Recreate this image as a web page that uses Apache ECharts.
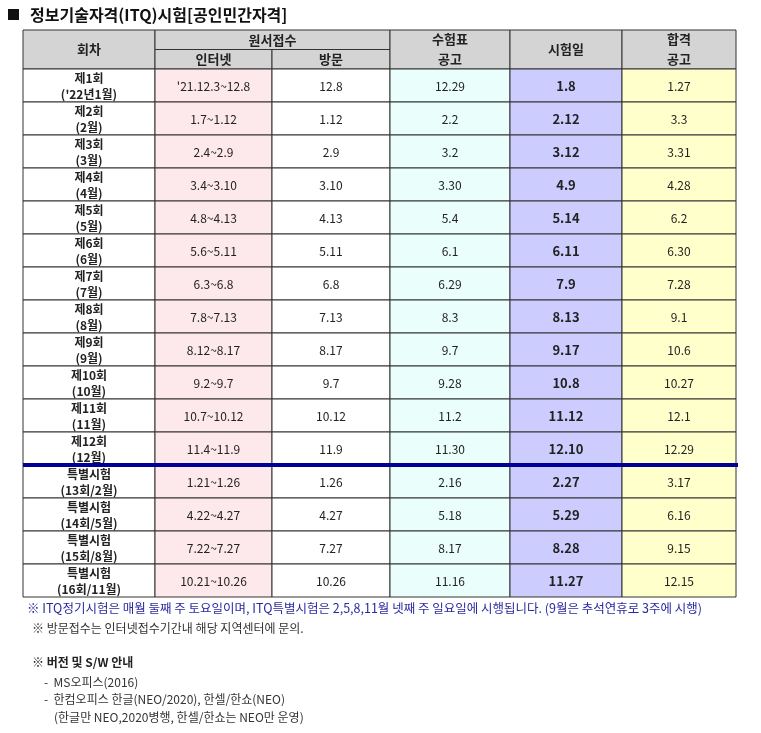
<!DOCTYPE html>
<html>
<head>
<meta charset="utf-8">
<script src="https://cdn.jsdelivr.net/npm/echarts@6/dist/echarts.min.js"></script>
<style>html,body{margin:0;padding:0;background:#fff}#box{width:761px;height:733px}</style>
</head>
<body>
<div id="box"></div>
<script>
// 표 데이터
var rounds = ['제1회\n(\'22년1월)', '제2회\n(2월)', '제3회\n(3월)', '제4회\n(4월)', '제5회\n(5월)', '제6회\n(6월)',
    '제7회\n(7월)', '제8회\n(8월)', '제9회\n(9월)', '제10회\n(10월)', '제11회\n(11월)', '제12회\n(12월)',
    '특별시험\n(13회/2월)', '특별시험\n(14회/5월)', '특별시험\n(15회/8월)', '특별시험\n(16회/11월)'];
var internet = ['\'21.12.3~12.8', '1.7~1.12', '2.4~2.9', '3.4~3.10', '4.8~4.13', '5.6~5.11', '6.3~6.8', '7.8~7.13',
    '8.12~8.17', '9.2~9.7', '10.7~10.12', '11.4~11.9', '1.21~1.26', '4.22~4.27', '7.22~7.27', '10.21~10.26'];
var visit = ['12.8', '1.12', '2.9', '3.10', '4.13', '5.11', '6.8', '7.13', '8.17', '9.7', '10.12', '11.9', '1.26', '4.27', '7.27', '10.26'];
var ticket = ['12.29', '2.2', '3.2', '3.30', '5.4', '6.1', '6.29', '8.3', '9.7', '9.28', '11.2', '11.30', '2.16', '5.18', '8.17', '11.16'];
var examDay = ['1.8', '2.12', '3.12', '4.9', '5.14', '6.11', '7.9', '8.13', '9.17', '10.8', '11.12', '12.10', '2.27', '5.29', '8.28', '11.27'];
var result = ['1.27', '3.3', '3.31', '4.28', '6.2', '6.30', '7.28', '9.1', '10.6', '10.27', '12.1', '12.29', '3.17', '6.16', '9.15', '12.15'];

var myChart = echarts.init(document.getElementById('box'));
var FONT = '"Noto Sans CJK KR", sans-serif';
var colX = [23, 155, 272, 390, 510, 622, 736];
var colFill = ['#ffffff', '#fde9ec', '#ffffff', '#eafffb', '#ccccff', '#ffffcc'];
var top0 = 30, headH = 39, rowH = 33.0;
var bodyTop = top0 + headH;
var cols = [rounds, internet, visit, ticket, examDay, result];
var g = [];

function rect(x, y, w, h, fill) {
    g.push({type: 'rect', shape: {x: x, y: y, width: w, height: h},
        style: {fill: fill, stroke: '#333', lineWidth: 1}});
}
function text(x, y, s, opt) {
    opt = opt || {};
    g.push({type: 'text', x: x, y: y, z: 10, style: {text: s, fill: opt.color || '#222',
        font: (opt.bold ? 'bold ' : '') + (opt.size || 12) + 'px ' + FONT,
        align: opt.align || 'center', verticalAlign: 'middle', lineHeight: opt.lh || 16}});
}

// 제목
g.push({type: 'rect', shape: {x: 8, y: 9, width: 11, height: 11}, style: {fill: '#111'}});
text(30, 15, '정보기술자격(ITQ)시험[공인민간자격]', {align: 'left', bold: true, size: 16, color: '#111'});

// 헤더
var hc = '#d4d4d4';
rect(colX[0], top0, colX[1] - colX[0], headH, hc);
text((colX[0] + colX[1]) / 2, top0 + headH / 2, '회차', {bold: true, size: 13});
rect(colX[1], top0, colX[3] - colX[1], headH / 2, hc);
text((colX[1] + colX[3]) / 2, top0 + headH / 4, '원서접수', {bold: true, size: 13});
rect(colX[1], top0 + headH / 2, colX[2] - colX[1], headH / 2, hc);
text((colX[1] + colX[2]) / 2, top0 + headH * 3 / 4, '인터넷', {bold: true, size: 13});
rect(colX[2], top0 + headH / 2, colX[3] - colX[2], headH / 2, hc);
text((colX[2] + colX[3]) / 2, top0 + headH * 3 / 4, '방문', {bold: true, size: 13});
var heads = [['수험표\n공고', 3], ['시험일', 4], ['합격\n공고', 5]];
heads.forEach(function (h) {
    var c = h[1];
    rect(colX[c], top0, colX[c + 1] - colX[c], headH, hc);
    text((colX[c] + colX[c + 1]) / 2, top0 + headH / 2, h[0], {bold: true, size: 13, lh: 20});
});

// 본문
rounds.forEach(function (r, i) {
    var y = bodyTop + i * rowH;
    cols.forEach(function (col, c) {
        rect(colX[c], y, colX[c + 1] - colX[c], rowH, colFill[c]);
        var bold = c === 0 || c === 4;
        text((colX[c] + colX[c + 1]) / 2, y + rowH / 2 + 1, col[i],
            {bold: bold, size: c === 4 ? 13 : 12, lh: 16, color: '#222'});
    });
});
// 정기/특별 구분선
g.push({type: 'rect', z: 20, shape: {x: colX[0], y: bodyTop + 12 * rowH - 2, width: colX[6] - colX[0] + 2, height: 4},
    style: {fill: '#000099'}});

// 안내문
var by = bodyTop + 16 * rowH;
text(27, by + 11, '※ ITQ정기시험은 매월 둘째 주 토요일이며, ITQ특별시험은 2,5,8,11월 넷째 주 일요일에 시행됩니다. (9월은 추석연휴로 3주에 시행)',
    {align: 'left', size: 12.5, color: '#2a2aa0'});
text(32, by + 31, '※ 방문접수는 인터넷접수기간내 해당 지역센터에 문의.', {align: 'left', size: 12, color: '#333'});
text(32, by + 65, '※ 버전 및 S/W 안내', {align: 'left', bold: true, size: 12, color: '#222'});
text(44, by + 85, '-  MS오피스(2016)', {align: 'left', size: 12, color: '#333'});
text(44, by + 102, '-  한컴오피스 한글(NEO/2020), 한셀/한쇼(NEO)', {align: 'left', size: 12, color: '#333'});
text(54, by + 120, '(한글만 NEO,2020병행, 한셀/한쇼는 NEO만 운영)', {align: 'left', size: 12, color: '#333'});

myChart.setOption({animation: false, graphic: {elements: g}});
</script>
</body>
</html>
